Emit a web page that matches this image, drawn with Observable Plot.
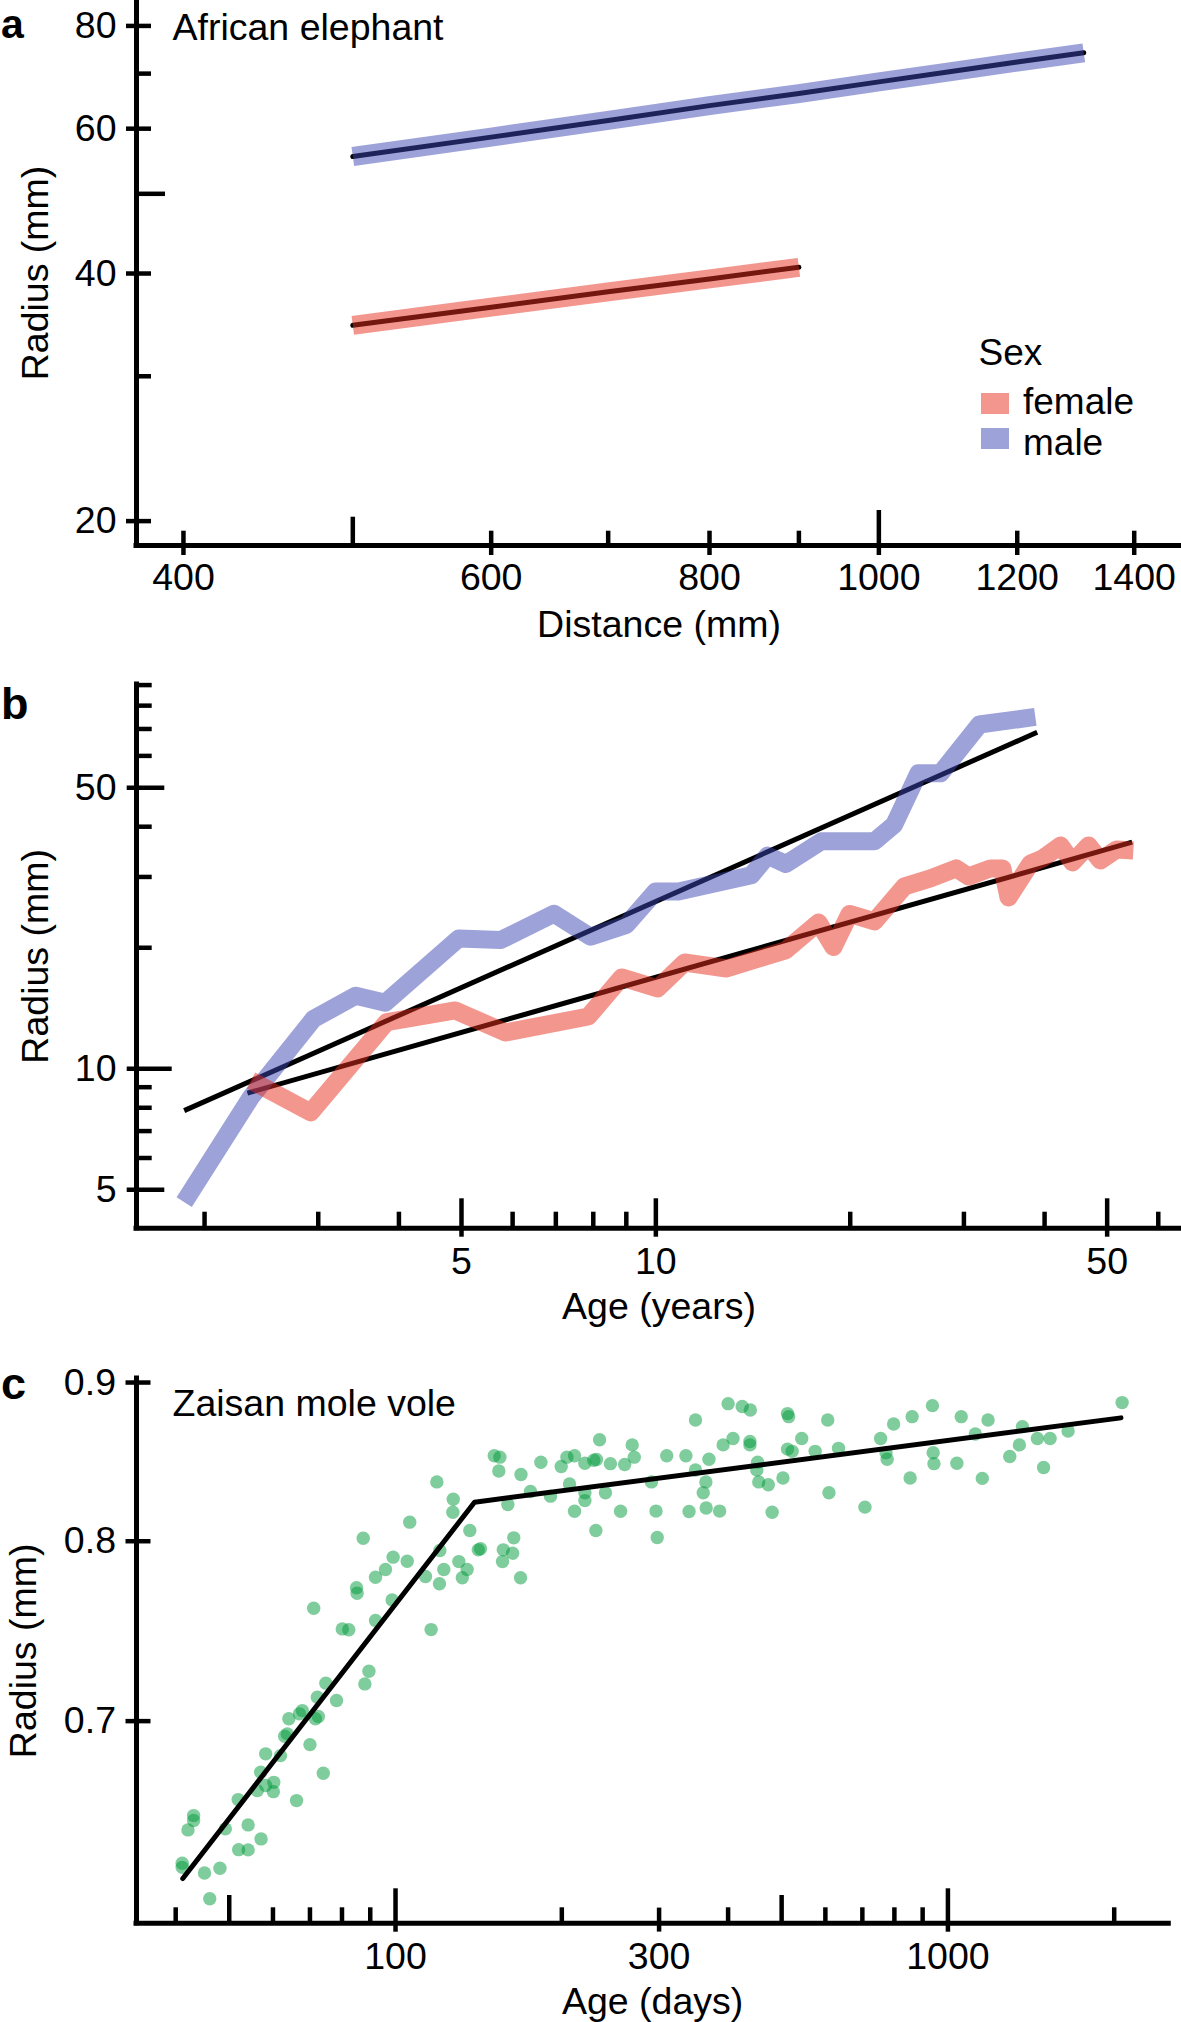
<!DOCTYPE html>
<html>
<head>
<meta charset="utf-8">
<script src="https://cdn.jsdelivr.net/npm/d3@7"></script>
<script src="https://cdn.jsdelivr.net/npm/@observablehq/plot@0.6"></script>
<style>
html, body { margin: 0; padding: 0; background: #fff; }
#fig { position: relative; width: 1181px; height: 2022px; overflow: hidden; font-family: "Liberation Sans", Arial, Helvetica, sans-serif; color: #000; }
.panel { position: absolute; left: 0; }
.lg { position: absolute; font-size: 37px; line-height: 34px; white-space: nowrap; }
.sw { position: absolute; width: 28px; height: 21px; }
</style>
</head>
<body>
<div id="fig"></div>
<script>
// ---------- Panel a: African elephant ----------
const aMaleDistance = [500, 600, 700, 800, 900, 1000, 1100, 1200, 1310];
const aMaleRadius   = [55.5, 58.6, 61.4, 64.0, 66.2, 68.4, 70.4, 72.3, 74.2];
const aFemaleDistance = [500, 600, 700, 800, 900];
const aFemaleRadius   = [34.6, 36.4, 38.0, 39.4, 40.7];
const aXDomain = [376, 1490];
const aYDomain = [18.68, 85.9];
const aXLabelTicks = [400, 600, 800, 1000, 1200, 1400];
const aYLabelTicks = [20, 40, 60, 80];
const aYMinorTicks = [30, 70];
const aYMidTicks = [50];

// ---------- Panel b: radius vs age (years) ----------
const bMaleAge    = [1.86, 2.36, 2.95, 3.43, 3.81, 4.95, 5.75, 6.95, 7.92, 9.0, 9.99, 10.84, 14.06, 14.9, 15.9, 18.05, 21.8, 23.4, 25.5, 27.6, 31.7, 38.7];
const bMaleRadius = [4.66, 8.5, 13.3, 15.2, 14.6, 21.1, 20.9, 24.3, 21.3, 22.8, 27.6, 27.6, 30.3, 33.9, 32.3, 36.8, 36.8, 40.5, 54.3, 54.3, 71.8, 75.0];
const bFemaleAge    = [2.36, 2.92, 3.83, 4.89, 5.85, 7.86, 8.85, 10.06, 11.08, 12.87, 14.79, 15.88, 17.86, 18.84, 19.95, 21.81, 24.27, 26.63, 29.2, 30.5, 32.98, 34.42, 35.17, 38.05, 39.7, 42.34, 44.2, 46.8, 48.8, 51.7, 54.9];
const bFemaleRadius = [9.35, 7.79, 13.07, 13.97, 12.31, 13.49, 16.87, 15.84, 18.38, 17.76, 19.03, 19.69, 23.11, 20.09, 24.27, 23.25, 28.41, 29.74, 31.5, 30.08, 31.5, 31.5, 26.67, 32.41, 33.35, 35.93, 32.6, 35.93, 32.97, 35.1, 34.9];
const bFitMaleAge = [1.86, 38.96];
const bFitMaleRadius = [7.87, 68.7];
const bFitFemaleAge = [2.33, 54.66];
const bFitFemaleRadius = [8.70, 36.6];
const bXDomain = [1.569, 65.18];
const bYDomain = [4.014, 90.3];
const bXLabelTicks = [5, 10, 50];
const bXMinorTicks = [2, 3, 4, 6, 7, 8, 9, 20, 30, 40, 60];
const bYLabelTicks = [5, 10, 50];
const bYMinorTicks = [6, 7, 8, 9, 20, 30, 40, 60, 70, 80, 90];

// ---------- Panel c: Zaisan mole vole ----------
const cAge = [
  127.0, 106.1, 87.4, 136.3, 159.7, 163.7, 210.9, 230.5, 255.5,
  99.0, 95.9, 105.0, 92.0, 85.0, 85.2, 120.3, 141.2, 142.5, 130.2, 122.3, 134.8, 113.3, 132.1, 120.1,
  156.7, 162.9, 156.2, 168.4, 71.1, 98.6, 92.0, 80.1, 82.3, 116.0, 89.5, 88.0, 74.8, 72.2, 78.2, 67.8,
  64.1, 71.6, 72.5, 63.0, 70.0, 58.2, 61.9, 57.0, 74.0, 58.2, 60.2, 56.2, 60.1, 51.9, 66.2,
  43.1, 43.1, 42.1, 49.2, 54.1, 57.1, 52.0, 54.1, 41.1, 41.1, 48.1, 45.1, 46.1, 63.7, 67.0,
  150.9, 154.5, 153.8, 168.7, 183.3, 199.5, 204.3, 210.9, 220.2, 228.5, 231.1, 234.1, 118.8, 127.2, 175.5, 190.8, 206.5, 220.2, 220.2,
  244.9, 259.9, 268.2, 270.5, 239.9, 290.6, 296.2, 297.7, 309.7, 335.5,
  339.9, 349.2, 349.2, 360.6, 364.6, 365.1, 369.3, 386.1, 391.8, 400.0,
  408.3, 424.3, 438.8, 438.1, 438.1, 452.4, 450.9, 454.5, 473.0, 480.6,
  502.7, 512.4, 514.8, 512.4, 522.4, 543.7, 575.0, 605.9, 609.0, 633.8,
  707.6, 755.4, 772.6, 776.2, 797.5, 854.3, 861.4, 937.5, 940.3, 943.4,
  1038, 1057, 1121, 1154, 1182, 1294, 1347, 1364, 1452, 1490,
  1531, 1650, 2067
];
const cRadius = [
  0.8174, 0.8114, 0.8018, 0.8064, 0.8221, 0.8020, 0.8180, 0.8064, 0.8180,
  0.7906, 0.7834, 0.7882, 0.7789, 0.7728, 0.7697, 0.7945, 0.7949, 0.7955, 0.7880, 0.7834, 0.7834, 0.7793, 0.7786, 0.7751,
  0.7949, 0.7929, 0.7880, 0.7786, 0.7612, 0.7659, 0.7543, 0.7496, 0.7491, 0.7492, 0.7264, 0.7196, 0.7200, 0.7125, 0.7108, 0.7055,
  0.7012, 0.7012, 0.7024, 0.6922, 0.6879, 0.6832, 0.6823, 0.6739, 0.6734, 0.6673, 0.6689, 0.6648, 0.6643, 0.6604, 0.6599,
  0.6526, 0.6502, 0.6457, 0.6462, 0.6481, 0.6414, 0.6363, 0.6362, 0.6299, 0.6280, 0.6276, 0.6254, 0.6135, 0.6934, 0.7038,
  0.8524, 0.8515, 0.8428, 0.8406, 0.8483, 0.8456, 0.8515, 0.8524, 0.8477, 0.8496, 0.8500, 0.8626, 0.8360, 0.8253, 0.8301, 0.8272, 0.8347, 0.8293, 0.8245,
  0.8474, 0.8469, 0.8593, 0.8515, 0.8293, 0.8360, 0.8181, 0.8022, 0.8524, 0.8524,
  0.8178, 0.8753, 0.8434, 0.8293, 0.8360, 0.8200, 0.8502, 0.8181, 0.8593, 0.8860,
  0.8634, 0.8841, 0.8818, 0.8615, 0.8593, 0.8483, 0.8434, 0.8360, 0.8342, 0.8174,
  0.8384, 0.8795, 0.8775, 0.8566, 0.8552, 0.8634, 0.8552, 0.8753, 0.8293, 0.8571,
  0.8205, 0.8634, 0.8543, 0.8502, 0.8727, 0.8384, 0.8775, 0.8847, 0.8543, 0.8474,
  0.8477, 0.8775, 0.8663, 0.8382, 0.8753, 0.8519, 0.8593, 0.8710, 0.8634, 0.8450,
  0.8634, 0.8682, 0.8867
];
const cFitAge = [41.2, 139.0, 2057];
const cFitRadius = [0.6228, 0.8235, 0.8767];
const cXDomain = [33.97, 2511];
const cYDomain = [0.6025, 0.9027];
const cXLabelTicks = [100, 300, 1000];
const cXLongTicks = [100, 1000];
const cXMidTicks = [300];
const cXHalfTicks = [50, 500];
const cXMinorTicks = [40, 60, 70, 80, 90, 200, 400, 600, 700, 800, 900, 2000];
const cYLabelTicks = [0.7, 0.8, 0.9];

const sexes = ["female", "male"];
const sexColors = ["#e62e1e", "#3c46b4"];
const bandOpacity = 0.5;
const voleColor = "#00993a";

// ---------- helpers ----------
const FONT = '"Liberation Sans", Arial, Helvetica, sans-serif';
const FS = 37.5;
const zipXY = (xs, ys) => xs.map((x, i) => ({x, y: ys[i]})).filter(d => d.y !== undefined);
const colorOf = s => sexColors[sexes.indexOf(s)];

function yTicks(values, size, dx) {
  return Plot.axisY(values, {anchor: "left", tickSize: size, dx, fill: "none", stroke: "#000", strokeWidth: 4.5, label: null});
}
function yLabels(values, pad) {
  return Plot.axisY(values, {anchor: "left", tickSize: 0, tickPadding: pad, stroke: "none", fill: "#000", fontSize: FS, label: null, tickFormat: d => String(d)});
}
function xTicks(values, size, dy) {
  return Plot.axisX(values, {anchor: "bottom", tickSize: size, dy, fill: "none", stroke: "#000", strokeWidth: 4.5, label: null});
}
function xLabels(values, pad) {
  return Plot.axisX(values, {anchor: "bottom", tickSize: 0, tickPadding: pad, stroke: "none", fill: "#000", fontSize: FS, label: null, tickFormat: d => String(d)});
}
function txt(s, opts) {
  return Plot.text([s], {text: d => d, fill: "#000", fontSize: FS, fontFamily: FONT, ...opts});
}
function axisLines(xd, yd) {
  return [
    Plot.ruleX([xd[0]], {stroke: "#000", strokeWidth: 5, strokeLinecap: "square"}),
    Plot.ruleY([yd[0]], {stroke: "#000", strokeWidth: 5, strokeLinecap: "square"})
  ];
}
const baseStyle = {fontFamily: FONT, fontSize: FS + "px", background: "transparent", overflow: "visible", color: "#000"};

const fig = document.getElementById("fig");
function place(el, top) {
  const d = document.createElement("div");
  d.className = "panel";
  d.style.top = top + "px";
  d.appendChild(el);
  fig.appendChild(d);
  return d;
}

// ---------- Plot a ----------
const aMale = zipXY(aMaleDistance, aMaleRadius);
const aFemale = zipXY(aFemaleDistance, aFemaleRadius);
const plotA = Plot.plot({
  width: 1181, height: 660,
  marginTop: 0, marginBottom: 115, marginLeft: 136, marginRight: 0,
  style: baseStyle,
  x: {type: "log", domain: aXDomain},
  y: {type: "log", domain: aYDomain},
  marks: [
    Plot.line(aFemale, {x: "x", y: "y", stroke: "#000", strokeWidth: 5}),
    Plot.line(aMale, {x: "x", y: "y", stroke: "#000", strokeWidth: 5}),
    Plot.line(aFemale, {x: "x", y: "y", stroke: colorOf("female"), strokeOpacity: bandOpacity, strokeWidth: 19, strokeLinecap: "butt"}),
    Plot.line(aMale, {x: "x", y: "y", stroke: colorOf("male"), strokeOpacity: bandOpacity, strokeWidth: 19, strokeLinecap: "butt"}),
    ...axisLines(aXDomain, aYDomain),
    yTicks(aYLabelTicks, 25, 15),
    yTicks(aYMinorTicks, 13, 15),
    yTicks(aYMidTicks, 27, 29),
    yLabels(aYLabelTicks, 20),
    xTicks([400, 600, 800, 1200, 1400], 24.3, -14.3),
    xTicks([1000], 45, -35),
    xTicks([500], 28.3, -28.3),
    xTicks([700, 900], 14.3, -14.3),
    xLabels(aXLabelTicks, 18),
    txt("a", {frameAnchor: "top-left", dx: -135.5, dy: 37.4, textAnchor: "start", lineAnchor: "bottom", fontWeight: "bold", fontSize: 41}),
    txt("African elephant", {frameAnchor: "top-left", dx: 36, dy: 39, textAnchor: "start", lineAnchor: "bottom"}),
    txt("Radius (mm)", {frameAnchor: "left", dx: -89, rotate: -90, textAnchor: "middle", lineAnchor: "bottom"}),
    txt("Distance (mm)", {frameAnchor: "bottom", dy: 91, textAnchor: "middle", lineAnchor: "bottom"})
  ]
});
place(plotA, 0);

// legend (panel a)
function legendText(s, left, baseline) {
  const e = document.createElement("div");
  e.className = "lg";
  e.textContent = s;
  e.style.left = left + "px";
  e.style.top = (baseline - 30) + "px";
  fig.appendChild(e);
}
function legendSwatch(color, left, top) {
  const e = document.createElement("div");
  e.className = "sw";
  e.style.left = left + "px";
  e.style.top = top + "px";
  e.style.background = color;
  e.style.opacity = bandOpacity;
  fig.appendChild(e);
}
legendText("Sex", 978.6, 366);
sexes.forEach((s, i) => {
  legendSwatch(sexColors[i], 981, 393 + i * 35);
  legendText(s, 1023, 414.5 + i * 41.5);
});

// ---------- Plot b ----------
const bMale = zipXY(bMaleAge, bMaleRadius);
const bFemale = zipXY(bFemaleAge, bFemaleRadius);
const bFitMale = zipXY(bFitMaleAge, bFitMaleRadius);
const bFitFemale = zipXY(bFitFemaleAge, bFitFemaleRadius);
const plotB = Plot.plot({
  width: 1181, height: 700,
  marginTop: 24, marginBottom: 132.3, marginLeft: 136, marginRight: 0,
  style: baseStyle,
  x: {type: "log", domain: bXDomain},
  y: {type: "log", domain: bYDomain},
  marks: [
    Plot.line(bFitMale, {x: "x", y: "y", stroke: "#000", strokeWidth: 5, strokeLinecap: "butt"}),
    Plot.line(bFitFemale, {x: "x", y: "y", stroke: "#000", strokeWidth: 5, strokeLinecap: "butt"}),
    Plot.line(bMale, {x: "x", y: "y", stroke: colorOf("male"), strokeOpacity: bandOpacity, strokeWidth: 18, strokeLinecap: "butt", strokeLinejoin: "round"}),
    Plot.line(bFemale, {x: "x", y: "y", stroke: colorOf("female"), strokeOpacity: bandOpacity, strokeWidth: 18, strokeLinecap: "butt", strokeLinejoin: "round"}),
    ...axisLines(bXDomain, bYDomain),
    yTicks([5, 50], 37.6, 28.3),
    yTicks([10], 45, 35.7),
    yTicks(bYMinorTicks, 15.7, 15.7),
    yLabels(bYLabelTicks, 20),
    xTicks(bXLabelTicks, 38.4, -29.4),
    xTicks(bXMinorTicks, 16, -16),
    xLabels(bXLabelTicks, 19),
    txt("b", {frameAnchor: "top-left", dx: -135.5, dy: 34.5, textAnchor: "start", lineAnchor: "bottom", fontWeight: "bold", fontSize: 45}),
    txt("Radius (mm)", {frameAnchor: "left", dx: -89, rotate: -90, textAnchor: "middle", lineAnchor: "bottom"}),
    txt("Age (years)", {frameAnchor: "bottom", dy: 90.3, textAnchor: "middle", lineAnchor: "bottom"})
  ]
});
place(plotB, 660);

// ---------- Plot c ----------
const cPoints = zipXY(cAge, cRadius);
const cFit = zipXY(cFitAge, cFitRadius);
const plotC = Plot.plot({
  width: 1181, height: 662,
  marginTop: 18, marginBottom: 99.3, marginLeft: 136, marginRight: 12.7,
  style: baseStyle,
  x: {type: "log", domain: cXDomain},
  y: {type: "log", domain: cYDomain},
  marks: [
    Plot.dot(cPoints, {x: "x", y: "y", r: 6.7, fill: voleColor, fillOpacity: 0.5, stroke: "none"}),
    Plot.line(cFit, {x: "x", y: "y", stroke: "#000", strokeWidth: 5, strokeLinejoin: "round", strokeLinecap: "round"}),
    ...axisLines(cXDomain, cYDomain),
    yTicks(cYLabelTicks, 25, 14.5),
    yLabels(cYLabelTicks, 20.5),
    xTicks(cXLongTicks, 43.4, -34.4),
    xTicks(cXMidTicks, 24, -15.1),
    xTicks(cXHalfTicks, 27.7, -27.7),
    xTicks(cXMinorTicks, 15.4, -15.4),
    xLabels(cXLabelTicks, 19),
    txt("c", {frameAnchor: "top-left", dx: -135.5, dy: 20.7, textAnchor: "start", lineAnchor: "bottom", fontWeight: "bold", fontSize: 45}),
    txt("Zaisan mole vole", {frameAnchor: "top-left", dx: 36, dy: 37.5, textAnchor: "start", lineAnchor: "bottom"}),
    txt("Radius (mm)", {frameAnchor: "left", dx: -101, rotate: -90, textAnchor: "middle", lineAnchor: "bottom"}),
    txt("Age (days)", {frameAnchor: "bottom", dy: 90.3, textAnchor: "middle", lineAnchor: "bottom"})
  ]
});
place(plotC, 1360);
</script>
</body>
</html>
